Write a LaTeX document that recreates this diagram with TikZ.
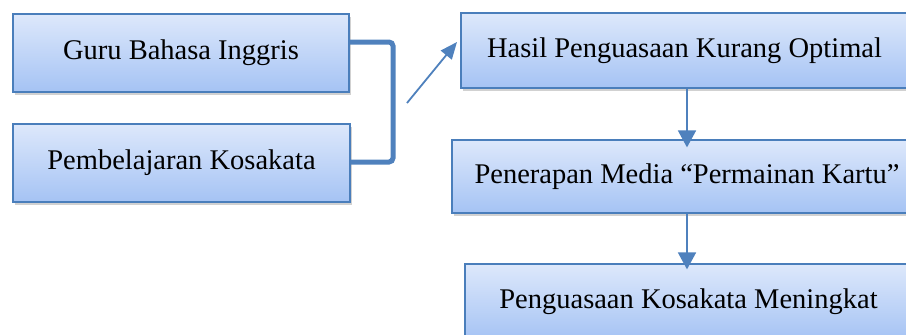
\documentclass[tikz,border=0pt]{standalone}
\usepackage{fontspec}
\setmainfont{Liberation Serif}
\usetikzlibrary{arrows.meta,shadows}
\definecolor{boxedge}{HTML}{4A7EBB}
\definecolor{boxtop}{HTML}{DDE8FB}
\definecolor{boxbot}{HTML}{A5C3F4}
\definecolor{lineblue}{HTML}{4F81BD}
\tikzset{
  flowbox/.style={draw=boxedge, line width=1.2pt, top color=boxtop, bottom color=boxbot,
    inner sep=0pt, font=\fontsize{28.5}{32}\selectfont,
    drop shadow={shadow xshift=1.5pt, shadow yshift=-3pt, opacity=0.3, fill=black!60}},
  downarrow/.style={draw=lineblue, line width=1.8pt, -{Triangle[width=18pt,length=17pt]}},
  diagarrow/.style={draw=lineblue, line width=1.8pt, -{Triangle[width=14pt,length=17pt]}},
  bracketline/.style={draw=lineblue, line width=5pt, rounded corners=4pt}
}
\begin{document}
\begin{tikzpicture}[x=1pt,y=-1pt]
\useasboundingbox (0,0) rectangle (906,335);
\clip (0,0) rectangle (906,335);
\node[flowbox, minimum width=336pt, minimum height=78pt] (g) at (181,53) {Guru Bahasa Inggris};
\node[flowbox, minimum width=337pt, minimum height=78pt] (p) at (181.5,163) {Pembelajaran Kosakata};
\node[flowbox, minimum width=447pt, minimum height=75pt] (h) at (684.5,50.5) {Hasil Penguasaan Kurang Optimal};
\node[flowbox, minimum width=470pt, minimum height=73pt] (r) at (687,176.5) {Penerapan Media “Permainan Kartu”};
\node[flowbox, minimum width=447pt, minimum height=76pt] (k) at (688.5,302) {Penguasaan Kosakata Meningkat};
\coordinate (bt) at (393,42);
\coordinate (bb) at (393,162);
\draw[bracketline] (g.east |- bt) -- (bt) -- (bb) -- (p.east |- bb);
\coordinate (ds) at (407,103);
\coordinate (de) at (457,42);
\draw[diagarrow] (ds) -- (de);
\draw[downarrow] (h.south -| 687,0) -- ([yshift=-8pt]r.north -| 687,0);
\draw[downarrow] (r.south -| 687,0) -- ([yshift=-6pt]k.north -| 687,0);
\end{tikzpicture}
\end{document}
